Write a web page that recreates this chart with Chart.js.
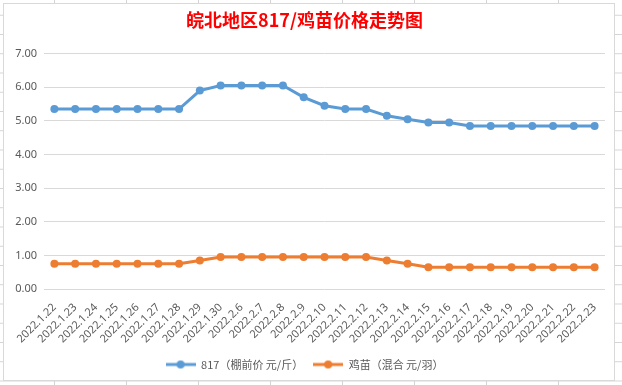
<!DOCTYPE html>
<html>
<head>
<meta charset="utf-8">
<script src="https://cdn.jsdelivr.net/npm/chart.js@4.4.1/dist/chart.umd.min.js"></script>
<style>
  html, body {
    margin: 0;
    padding: 0;
    width: 622px;
    height: 385px;
    overflow: hidden;
    background-color: #fff;
    background-image:
      linear-gradient(to right, #d4d4d4 1px, transparent 1px),
      linear-gradient(to bottom, #d4d4d4 1px, transparent 1px);
    background-size: 72px 19.25px;
    background-position: 54px 14.75px;
  }
  #frame {
    position: absolute;
    left: 3px;
    top: 3px;
    width: 610px;
    height: 376px;
    background: #fff;
    border: 1px solid #d9d9d9;
  }
</style>
</head>
<body>
<div id="frame"><canvas id="myChart" width="610" height="376"></canvas></div>
<script>
// dates on the x axis
var categories = [
  "2022.1.22", "2022.1.23", "2022.1.24", "2022.1.25", "2022.1.26", "2022.1.27",
  "2022.1.28", "2022.1.29", "2022.1.30", "2022.2.6", "2022.2.7", "2022.2.8",
  "2022.2.9", "2022.2.10", "2022.2.11", "2022.2.12", "2022.2.13", "2022.2.14",
  "2022.2.15", "2022.2.16", "2022.2.17", "2022.2.18", "2022.2.19", "2022.2.20",
  "2022.2.21", "2022.2.22", "2022.2.23"
];

// 817（棚前价 元/斤）
var price817 = [
  5.35, 5.35, 5.35, 5.35, 5.35, 5.35, 5.35, 5.9, 6.05, 6.05, 6.05, 6.05,
  5.7, 5.45, 5.35, 5.35, 5.15, 5.05, 4.95, 4.95, 4.85, 4.85, 4.85, 4.85,
  4.85, 4.85, 4.85
];

// 鸡苗（混合 元/羽）
var chickPrice = [
  0.75, 0.75, 0.75, 0.75, 0.75, 0.75, 0.75, 0.85, 0.95, 0.95, 0.95, 0.95,
  0.95, 0.95, 0.95, 0.95, 0.85, 0.75, 0.65, 0.65, 0.65, 0.65, 0.65, 0.65,
  0.65, 0.65, 0.65
];

var seriesNames = ["817（棚前价 元/斤）", "鸡苗（混合 元/羽）"];
var blue = "#5b9bd5";
var orange = "#ed7d31";
var textGray = "#595959";

// legend marker: short line with a dot in the middle
function legendMarker(color) {
  var c = document.createElement("canvas");
  c.width = 30;
  c.height = 10;
  var g = c.getContext("2d");
  g.strokeStyle = color;
  g.lineWidth = 3;
  g.beginPath();
  g.moveTo(0, 5);
  g.lineTo(30, 5);
  g.stroke();
  g.fillStyle = color;
  g.beginPath();
  g.arc(15, 5, 4, 0, Math.PI * 2);
  g.fill();
  return c;
}
var markers = [legendMarker(blue), legendMarker(orange)];

var ctx = document.getElementById("myChart").getContext("2d");
var chart = new Chart(ctx, {
  type: "line",
  data: {
    labels: categories,
    datasets: [
      {
        label: seriesNames[0],
        data: price817,
        borderColor: blue,
        backgroundColor: blue,
        borderWidth: 3,
        pointRadius: 4,
        pointBorderWidth: 0,
        tension: 0,
      },
      {
        label: seriesNames[1],
        data: chickPrice,
        borderColor: orange,
        backgroundColor: orange,
        borderWidth: 3,
        pointRadius: 4,
        pointBorderWidth: 0,
        tension: 0,
      },
    ],
  },
  options: {
    responsive: false,
    animation: false,
    layout: {
      padding: { left: 0, right: 9, top: 0, bottom: 0 },
    },
    plugins: {
      title: {
        display: true,
        text: "皖北地区817/鸡苗价格走势图",
        color: "#ff0000",
        font: { family: "'Noto Sans CJK SC', sans-serif", size: 18, weight: "bold" },
        padding: { top: 5, bottom: 23 },
      },
      legend: {
        position: "bottom",
        labels: {
          usePointStyle: true,
          pointStyleWidth: 30,
          color: textGray,
          padding: 10,
          font: { family: "'Noto Sans CJK SC', sans-serif", size: 11 },
          generateLabels: function (chart) {
            var items = Chart.defaults.plugins.legend.labels.generateLabels(chart);
            items.forEach(function (it, i) {
              it.pointStyle = markers[i];
            });
            return items;
          },
        },
      },
      tooltip: { enabled: false },
    },
    scales: {
      x: {
        offset: true,
        grid: { display: false },
        border: { display: false },
        ticks: {
          autoSkip: false,
          maxRotation: 45,
          minRotation: 45,
          color: textGray,
          padding: 4,
          font: { family: "'Noto Sans', sans-serif", size: 11 },
        },
        afterFit: function (scale) {
          scale.height = 60;
        },
      },
      y: {
        min: 0,
        max: 7,
        grid: { color: "#d9d9d9", drawTicks: false },
        border: { display: false },
        ticks: {
          stepSize: 1,
          color: textGray,
          padding: 7,
          font: { family: "'Noto Sans', sans-serif", size: 11 },
          callback: function (v) {
            return v.toFixed(2);
          },
        },
        afterFit: function (scale) {
          scale.width = 40;
        },
      },
    },
  },
});
</script>
</body>
</html>
